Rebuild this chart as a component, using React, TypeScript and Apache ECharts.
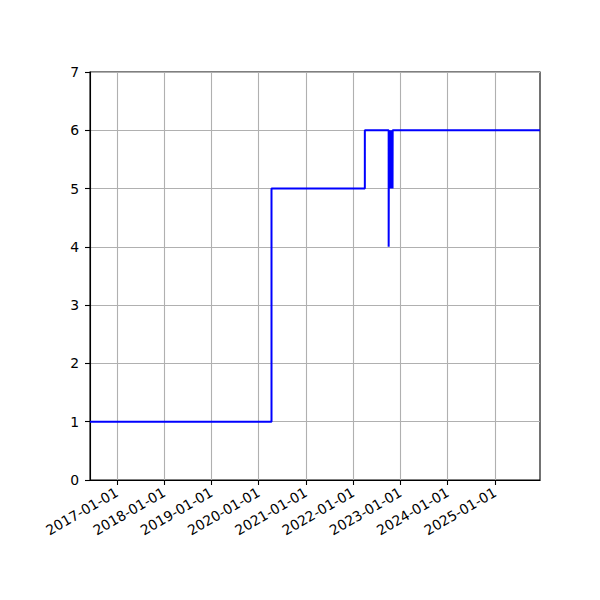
import * as echarts from "echarts";
import { useEffect, useRef } from "react";

// step points: [date, value], each value holds until the next date
const stepDates = [
  "2016-06-08",
  "2020-04-10",
  "2022-04-01",
  "2022-10-02",
  "2022-10-04",
  "2022-10-08",
  "2022-10-10",
  "2022-10-14",
  "2022-10-16",
  "2022-10-20",
  "2022-10-22",
  "2022-10-26",
  "2022-10-28",
  "2022-11-01",
  "2022-11-02",
  "2025-12-14",
];
const stepValues = [1, 5, 6, 4, 6, 5, 6, 5, 6, 5, 6, 5, 6, 5, 6, 6];

const tickDates = [
  "2017-01-01",
  "2018-01-01",
  "2019-01-01",
  "2020-01-01",
  "2021-01-01",
  "2022-01-01",
  "2023-01-01",
  "2024-01-01",
  "2025-01-01",
];

const xMin = "2016-06-08";
const xMax = "2025-12-14";

const ts = (d: string) => new Date(d + "T00:00:00Z").getTime();

const pad = (n: number) => (n < 10 ? "0" + n : "" + n);
const fmt = (v: number) => {
  const d = new Date(v);
  return d.getUTCFullYear() + "-" + pad(d.getUTCMonth() + 1) + "-" + pad(d.getUTCDate());
};

const App = () => {
  const chartRef = useRef<HTMLDivElement | null>(null);

  useEffect(() => {
    const chart = echarts.init(chartRef.current!, null, { renderer: "svg" });
    const ticks = tickDates.map(ts);

    const option = {
      animation: false,
      textStyle: { fontFamily: "DejaVu Sans" },
      grid: {
        left: 90,
        right: 60,
        top: 72,
        bottom: 120,
        show: true,
        borderColor: "#000",
        borderWidth: 1.1,
        backgroundColor: "transparent",
      },
      xAxis: {
        type: "value",
        min: ts(xMin),
        max: ts(xMax),
        axisLine: { show: true, lineStyle: { color: "#000", width: 1.1 } },
        axisTick: {
          show: true,
          length: 5,
          customValues: ticks,
          lineStyle: { color: "#000", width: 1.1 },
        },
        axisLabel: {
          customValues: ticks,
          rotate: 30,
          margin: 11,
          fontSize: 13.9,
          color: "#000",
          formatter: (v: number) => fmt(v),
        },
        splitLine: { show: true, lineStyle: { color: "#b0b0b0", width: 1.1 } },
      },
      yAxis: {
        type: "value",
        min: 0,
        max: 7,
        interval: 1,
        axisLine: { show: true, lineStyle: { color: "#000", width: 1.1 } },
        axisTick: { show: true, length: 5, lineStyle: { color: "#000", width: 1.1 } },
        axisLabel: { fontSize: 13.9, color: "#000", margin: 11 },
        splitLine: { show: true, lineStyle: { color: "#b0b0b0", width: 1.1 } },
      },
      series: [
        {
          type: "line",
          step: "end",
          showSymbol: false,
          data: stepDates.map((d, i) => [ts(d), stepValues[i]]),
          lineStyle: { color: "#0000ff", width: 2 },
          itemStyle: { color: "#0000ff" },
        },
      ],
    };

    chart.setOption(option);

    return () => {
      chart.dispose();
    };
  }, []);

  return <div ref={chartRef} style={{ width: "600px", height: "600px", margin: "-8px" }} />;
};

export default App;
